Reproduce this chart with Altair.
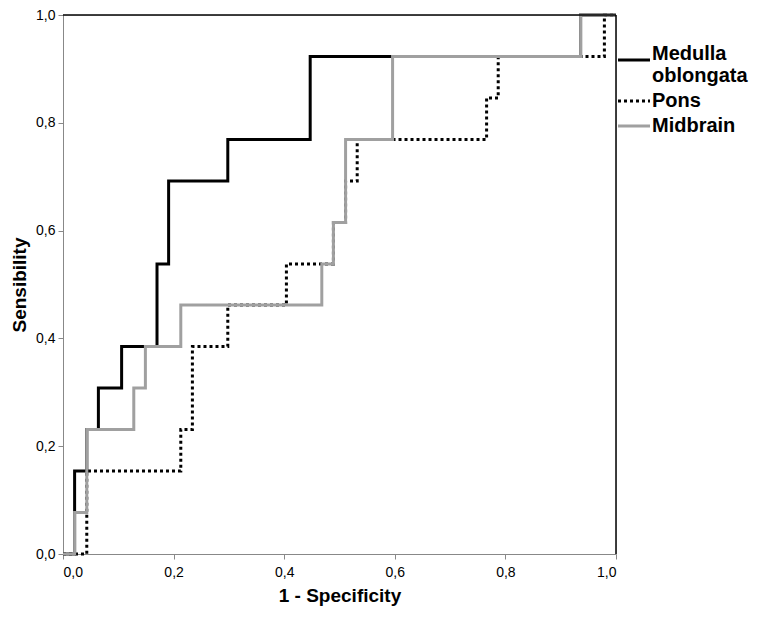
import altair as alt
import pandas as pd

series = ["Medulla oblongata", "Pons", "Midbrain"]

med_x = [0.0, 0.021, 0.021, 0.043, 0.043, 0.064, 0.064, 0.106, 0.106, 0.170, 0.170, 0.191, 0.191, 0.298, 0.298, 0.447, 0.447, 0.936, 0.936, 1.0]
med_y = [0.0, 0.0, 0.154, 0.154, 0.231, 0.231, 0.308, 0.308, 0.385, 0.385, 0.538, 0.538, 0.692, 0.692, 0.769, 0.769, 0.923, 0.923, 1.0, 1.0]

pons_x = [0.0, 0.043, 0.043, 0.213, 0.213, 0.234, 0.234, 0.298, 0.298, 0.404, 0.404, 0.489, 0.489, 0.511, 0.511, 0.532, 0.532, 0.766, 0.766, 0.787, 0.787, 0.979, 0.979, 1.0]
pons_y = [0.0, 0.0, 0.154, 0.154, 0.231, 0.231, 0.385, 0.385, 0.462, 0.462, 0.538, 0.538, 0.615, 0.615, 0.692, 0.692, 0.769, 0.769, 0.846, 0.846, 0.923, 0.923, 1.0, 1.0]

mid_x = [0.0, 0.021, 0.021, 0.043, 0.043, 0.128, 0.128, 0.149, 0.149, 0.213, 0.213, 0.468, 0.468, 0.489, 0.489, 0.511, 0.511, 0.596, 0.596, 0.936, 0.936, 1.0]
mid_y = [0.0, 0.0, 0.077, 0.077, 0.231, 0.231, 0.308, 0.308, 0.385, 0.385, 0.462, 0.462, 0.538, 0.538, 0.615, 0.615, 0.769, 0.769, 0.923, 0.923, 1.0, 1.0]

ticks = [0.0, 0.2, 0.4, 0.6, 0.8, 1.0]

rows = []
for name, xs, ys in [(series[0], med_x, med_y), (series[1], pons_x, pons_y), (series[2], mid_x, mid_y)]:
    for i, (a, b) in enumerate(zip(xs, ys)):
        rows.append({"series": name, "x": a, "y": b, "i": i})
df = pd.DataFrame(rows)

label_expr = "replace(format(datum.value, '.1f'), '.', ',')"

color = alt.Color(
    "series:N",
    scale=alt.Scale(domain=series, range=["#000000", "#000000", "#a0a0a0"]),
    legend=alt.Legend(
        title=None,
        orient="none",
        legendX=561,
        legendY=35,
        symbolType="M-2,0H2",
        symbolSize=256,
        symbolStrokeWidth=3,
        labelFont="Liberation Sans",
        labelFontWeight="bold",
        labelFontSize=20,
        labelColor="#000000",
        labelExpr="datum.label == 'Medulla oblongata' ? ['Medulla', 'oblongata'] : datum.label",
        labelBaseline={"expr": "datum.label == 'Medulla oblongata' ? 'alphabetic' : 'middle'"},
        labelOffset=8,
        rowPadding=5,
        labelLimit=200,
    ),
)
dash = alt.StrokeDash(
    "series:N",
    scale=alt.Scale(domain=series, range=[[1, 0], [3, 3], [1, 0]]),
    legend=alt.Legend(title=None),
)

x_enc = alt.X(
    "x:Q",
    scale=alt.Scale(domain=[0, 1], nice=False),
    axis=alt.Axis(
        values=ticks, labelExpr=label_expr, title="1 - Specificity", grid=False,
        tickSize=5, labelFontSize=14, labelPadding=6,
        titleFontSize=19, titleFontWeight="bold", titlePadding=7,
    ),
)
y_enc = alt.Y(
    "y:Q",
    scale=alt.Scale(domain=[0, 1], nice=False),
    axis=alt.Axis(
        values=ticks, labelExpr=label_expr, title="Sensibility", grid=False,
        tickSize=5, labelFontSize=14, labelPadding=3,
        titleFontSize=19, titleFontWeight="bold", titlePadding=6,
    ),
)

layers = []
for name in series:
    layers.append(
        alt.Chart(df[df["series"] == name])
        .mark_line(strokeWidth=3, strokeCap="butt", strokeJoin="miter")
        .encode(x=x_enc, y=y_enc, color=color, strokeDash=dash, order=alt.Order("i:Q"))
    )

frame_src = pd.DataFrame({"v": [1.0]})
top_rule = alt.Chart(frame_src).mark_rule(color="#000000", strokeWidth=1.5).encode(y=alt.Y("v:Q"))
right_rule = alt.Chart(frame_src).mark_rule(color="#000000", strokeWidth=1.5).encode(x=alt.X("v:Q"))

chart = (
    alt.layer(*layers, top_rule, right_rule)
    .properties(
        width=553,
        height=539,
        autosize=alt.AutoSizeParams(type="none"),
        padding={"left": 55, "top": 7, "right": 134, "bottom": 55},
    )
    .configure_view(stroke=None)
    .configure_axis(
        domainColor="#000000", tickColor="#000000", labelColor="#000000",
        titleColor="#000000", labelFont="Liberation Sans", titleFont="Liberation Sans",
        domainWidth=1.5, tickWidth=1.2,
    )
    .configure(background="white")
)

chart.save("out.html", embed_options={"renderer": "svg", "actions": False})
